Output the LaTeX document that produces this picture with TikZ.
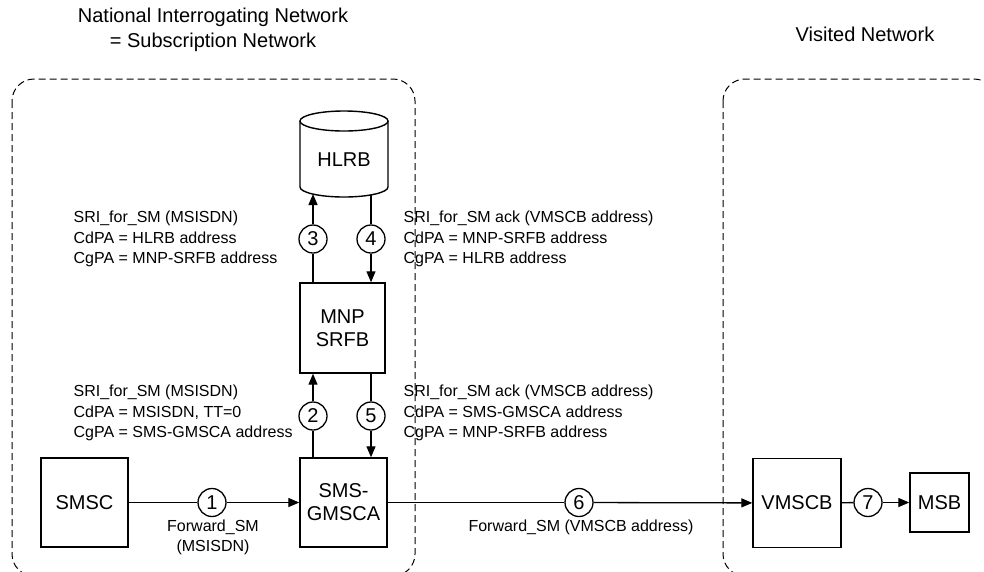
\documentclass[tikz,border=0pt]{standalone}
\usepackage{fontspec}
\setmainfont{Liberation Sans}
\usetikzlibrary{arrows.meta}

\begin{document}
\begin{tikzpicture}[x=1pt,y=-1pt,>={Triangle[length=11pt,width=9pt]},line width=1.3pt,
    box node/.style={draw,line width=1.4pt,minimum width=87pt,minimum height=89pt,align=center,font=\fontsize{20}{23}\selectfont},
    num node/.style={circle,draw,fill=white,minimum size=28pt,inner sep=0pt,font=\fontsize{20}{23}\selectfont},
    msg node/.style={align=left,inner sep=0pt,anchor=west,font=\fontsize{16}{20.5}\selectfont},
    net area/.style={draw,line width=1pt,dash pattern=on 7pt off 4pt,rounded corners=22pt}]
    \useasboundingbox (0,0) rectangle (984,571);
    \clip (0,0) rectangle (984,571);

    % network areas
    \draw[net area] (12,79) rectangle (415,576);
    \draw[net area] (723,79) rectangle (996,576);
    \node[align=center,font=\fontsize{20}{25}\selectfont] (title1) at (213,30) {National Interrogating Network\\= Subscription Network};
    \node[font=\fontsize{20}{25}\selectfont] (title2) at (865,34) {Visited Network};

    % HLR database
    \draw[line width=1.4pt] (344,121) ellipse [x radius=44pt,y radius=10pt];
    \draw[line width=1.4pt] (300,121) -- (300,187) arc[start angle=180,end angle=360,x radius=44pt,y radius=10pt] -- (388,121);
    \node[font=\fontsize{20}{23}\selectfont] (hlrb) at (344,160) {HLRB};
    \coordinate (hlrb3) at (313,194);
    \coordinate (hlrb4) at (371,195);

    \node[box node,minimum width=85pt,minimum height=90pt] (mnp) at (342.5,328) {MNP\\SRFB};
    \node[box node] (smsc) at (84.5,502.5) {SMSC};
    \node[box node] (gmsca) at (343.5,502.5) {SMS-\\GMSCA};
    \node[box node,minimum width=88pt] (vmscb) at (797,503) {VMSCB};
    \node[box node,minimum width=59pt,minimum height=59pt] (msb) at (939.5,502.5) {MSB};

    \node[num node] (n1) at (212,502.5) {1};
    \node[num node] (n2) at (313,416) {2};
    \node[num node] (n3) at (313,239) {3};
    \node[num node] (n4) at (371,239) {4};
    \node[num node] (n5) at (371,416) {5};
    \node[num node] (n6) at (579,502.5) {6};
    \node[num node] (n7) at (868,502.5) {7};

    \draw (smsc) -- (n1);
    \draw[->] (n1) -- (gmsca);
    \draw (n2 |- gmsca.north) -- (n2);
    \draw[->] (n2) -- (n2 |- mnp.south);
    \draw (n3 |- mnp.north) -- (n3);
    \draw[->] (n3) -- (hlrb3);
    \draw (hlrb4) -- (n4);
    \draw[->] (n4) -- (n4 |- mnp.north);
    \draw (n5 |- mnp.south) -- (n5);
    \draw[->] (n5) -- (n5 |- gmsca.north);
    \draw (gmsca) -- (n6);
    \draw[->] (n6) -- (vmscb);
    \draw (vmscb) -- (n7);
    \draw[->] (n7) -- (msb);

    % message texts
    \node[msg node] (m3) at (73,239) {SRI\_for\_SM (MSISDN)\\CdPA = HLRB address\\CgPA = MNP-SRFB address};
    \node[msg node] (m4) at (403,239) {SRI\_for\_SM ack (VMSCB address)\\CdPA = MNP-SRFB address\\CgPA = HLRB address};
    \node[msg node] (m2) at (73,413) {SRI\_for\_SM (MSISDN)\\CdPA = MSISDN, TT=0\\CgPA = SMS-GMSCA address};
    \node[msg node] (m5) at (403,413) {SRI\_for\_SM ack (VMSCB address)\\CdPA = SMS-GMSCA address\\CgPA = MNP-SRFB address};
    \node[msg node,anchor=center,align=center,font=\fontsize{16}{19.5}\selectfont] (m1) at (213,537.5) {Forward\_SM\\(MSISDN)};
    \node[msg node,anchor=center] (m6) at (581,527) {Forward\_SM (VMSCB address)};
\end{tikzpicture}
\end{document}
